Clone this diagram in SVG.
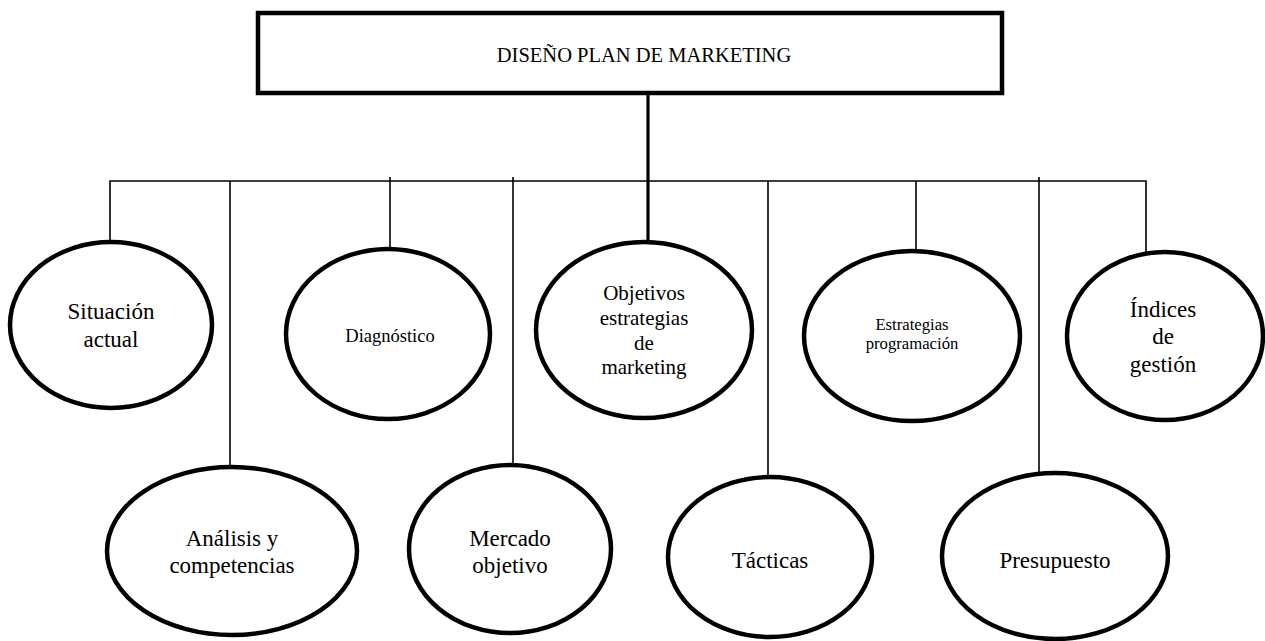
<svg xmlns="http://www.w3.org/2000/svg" width="1265" height="641" viewBox="0 0 1265 641">
<style>
.node ellipse{fill:#fff;stroke:#000;stroke-width:4.5}
.box{fill:#fff;stroke:#000;stroke-width:4.5}
.t{font-family:"Liberation Serif","Times New Roman",serif;fill:#000;text-anchor:middle}
.c{stroke:#000;stroke-width:1.6;fill:none}
.ck{stroke:#000;stroke-width:3.2;fill:none}
</style>
<rect width="1265" height="641" fill="#fff"/>
<g id="connectors">
<polyline class="c" points="110,242 110,181 1146,181 1146,252"/>
<line class="c" x1="230" y1="181" x2="230" y2="466"/>
<line class="c" x1="390" y1="177" x2="390" y2="249"/>
<line class="c" x1="513" y1="177" x2="513" y2="464"/>
<line class="ck" x1="648" y1="93" x2="648" y2="242"/>
<line class="c" x1="768" y1="181" x2="768" y2="477"/>
<line class="c" x1="916" y1="181" x2="916" y2="251"/>
<line class="c" x1="1039" y1="177" x2="1039" y2="473"/>
</g>
<g id="root">
<rect class="box" x="258" y="13" width="744" height="80"/>
<text class="t" x="644" y="62" font-size="20.5">DISEÑO PLAN DE MARKETING</text>
</g>
<g id="situacion" class="node">
<ellipse cx="111" cy="325" rx="101" ry="83"/>
<text class="t" x="111" y="319" font-size="23">Situación</text>
<text class="t" x="111" y="347" font-size="23">actual</text>
</g>
<g id="diagnostico" class="node">
<ellipse cx="388" cy="334" rx="102" ry="85"/>
<text class="t" x="390" y="342" font-size="18.5">Diagnóstico</text>
</g>
<g id="objetivos" class="node">
<ellipse cx="644" cy="330" rx="108" ry="88"/>
<text class="t" x="644" y="300" font-size="21">Objetivos</text>
<text class="t" x="644" y="325" font-size="21">estrategias</text>
<text class="t" x="644" y="350" font-size="21">de</text>
<text class="t" x="644" y="374" font-size="21">marketing</text>
</g>
<g id="estrategias" class="node">
<ellipse cx="912" cy="336" rx="108" ry="85"/>
<text class="t" x="912" y="330" font-size="16.7">Estrategias</text>
<text class="t" x="912" y="349" font-size="16.7">programación</text>
</g>
<g id="indices" class="node">
<ellipse cx="1165" cy="336" rx="98" ry="84"/>
<text class="t" x="1163" y="317" font-size="23">Índices</text>
<text class="t" x="1163" y="344" font-size="23">de</text>
<text class="t" x="1163" y="372" font-size="23">gestión</text>
</g>
<g id="analisis" class="node">
<ellipse cx="232" cy="551" rx="125" ry="84"/>
<text class="t" x="232" y="546" font-size="23">Análisis y</text>
<text class="t" x="232" y="573" font-size="23">competencias</text>
</g>
<g id="mercado" class="node">
<ellipse cx="510" cy="549" rx="101" ry="84"/>
<text class="t" x="510" y="546" font-size="23">Mercado</text>
<text class="t" x="510" y="573" font-size="23">objetivo</text>
</g>
<g id="tacticas" class="node">
<ellipse cx="770" cy="557" rx="102" ry="80"/>
<text class="t" x="770" y="568" font-size="23">Tácticas</text>
</g>
<g id="presupuesto" class="node">
<ellipse cx="1055" cy="556" rx="113" ry="83"/>
<text class="t" x="1055" y="568" font-size="23">Presupuesto</text>
</g>
</svg>
